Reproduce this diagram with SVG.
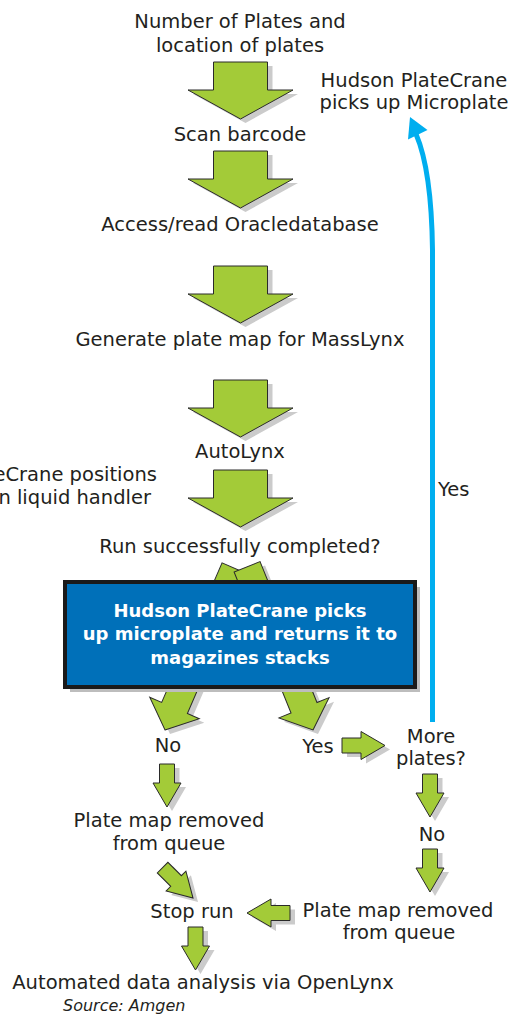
<svg xmlns="http://www.w3.org/2000/svg" width="514" height="1014" viewBox="0 0 514 1014">
<style>
.t{font-family:"DejaVu Sans","Liberation Sans",sans-serif;font-size:19.5px;fill:#231f20;text-anchor:middle}
.e{text-anchor:end}
.s{text-anchor:start}
.w{font-family:"DejaVu Sans","Liberation Sans",sans-serif;font-size:18px;font-weight:bold;fill:#ffffff;text-anchor:middle}
.src{font-family:"DejaVu Sans","Liberation Sans",sans-serif;font-size:16px;font-style:italic;fill:#231f20}
.ar{fill:#a3cb38;stroke:#2a2a2a;stroke-width:1;stroke-linejoin:miter}
.sh{fill:#cbcbcb;stroke:none}
.blue{fill:none;stroke:#00aeef;stroke-width:5;stroke-linecap:butt}
</style>
<defs>
<path id="big" d="M0,0 L52.5,-29 L27,-29 L27,-57 L-27,-57 L-27,-29 L-52.5,-29 Z"/>
<path id="med" d="M0,0 L27,-24 L14,-24 L14,-176 L-14,-176 L-14,-24 L-27,-24 Z"/>
<path id="sm" d="M0,0 L14,-24 L7.5,-24 L7.5,-43 L-7.5,-43 L-7.5,-24 L-14,-24 Z"/>
</defs>
<rect width="514" height="1014" fill="#ffffff"/>

<g id="connectors">
  <use href="#big" class="sh" transform="translate(245.5,123)"/>
  <use href="#big" class="ar" transform="translate(240.5,119)"/>
  <use href="#big" class="sh" transform="translate(245.5,212)"/>
  <use href="#big" class="ar" transform="translate(240.5,208)"/>
  <use href="#big" class="sh" transform="translate(245.5,327)"/>
  <use href="#big" class="ar" transform="translate(240.5,323)"/>
  <use href="#big" class="sh" transform="translate(245.5,441)"/>
  <use href="#big" class="ar" transform="translate(240.5,437)"/>
  <use href="#big" class="sh" transform="translate(245.5,531)"/>
  <use href="#big" class="ar" transform="translate(240.5,527)"/>
  <use href="#med" class="sh" transform="translate(170,734) rotate(23.4)"/>
  <use href="#med" class="ar" transform="translate(165,730) rotate(23.4)"/>
  <use href="#med" class="sh" transform="translate(318,734) rotate(-22)"/>
  <use href="#med" class="ar" transform="translate(313,730) rotate(-22)"/>
  <use href="#sm" class="sh" transform="translate(172,811)"/>
  <use href="#sm" class="ar" transform="translate(167,807)"/>
  <use href="#sm" class="sh" transform="translate(198,902) rotate(-45)"/>
  <use href="#sm" class="ar" transform="translate(193,898) rotate(-45)"/>
  <use href="#sm" class="sh" transform="translate(200.5,974)"/>
  <use href="#sm" class="ar" transform="translate(195.5,970)"/>
  <use href="#sm" class="sh" transform="translate(252,917) rotate(90)"/>
  <use href="#sm" class="ar" transform="translate(247,913) rotate(90)"/>
  <use href="#sm" class="sh" transform="translate(390,749.5) rotate(-90)"/>
  <use href="#sm" class="ar" transform="translate(385,745.5) rotate(-90)"/>
  <use href="#sm" class="sh" transform="translate(435,821)"/>
  <use href="#sm" class="ar" transform="translate(430,817)"/>
  <use href="#sm" class="sh" transform="translate(435,896)"/>
  <use href="#sm" class="ar" transform="translate(430,892)"/>
  <path class="blue" d="M432.5,722 L432.5,250 Q431.5,170 416,134"/>
  <polygon points="410,117 427.5,130 408,139.5" fill="#00aeef"/>
</g>

<g id="box">
  <rect x="70" y="587" width="350" height="105" fill="#bdbdbd"/>
  <rect x="65" y="582" width="350" height="105" fill="#0070b9" stroke="#1a1a1a" stroke-width="4"/>
  <text class="w" x="240" y="617">Hudson PlateCrane picks</text>
  <text class="w" x="240" y="640">up microplate and returns it to</text>
  <text class="w" x="240" y="664">magazines stacks</text>
</g>

<g id="n-number"><text class="t" x="240" y="28">Number of Plates and</text><text class="t" x="240" y="52">location of plates</text></g>
<g id="n-pickup"><text class="t" x="414" y="87">Hudson PlateCrane</text><text class="t" x="414" y="109">picks up Microplate</text></g>
<g id="n-scan"><text class="t" x="240" y="141">Scan barcode</text></g>
<g id="n-access"><text class="t" x="240" y="231">Access/read Oracledatabase</text></g>
<g id="n-generate"><text class="t" x="240" y="346">Generate plate map for MassLynx</text></g>
<g id="n-autolynx"><text class="t" x="240" y="458">AutoLynx</text></g>
<g id="n-positions"><text class="t e" x="157" y="481">eCrane positions</text><text class="t e" x="151" y="504">n liquid handler</text></g>
<g id="n-yes-top"><text class="t s" x="438" y="496">Yes</text></g>
<g id="n-run"><text class="t" x="240" y="553">Run successfully completed?</text></g>
<g id="n-no"><text class="t" x="168" y="752">No</text></g>
<g id="n-yes"><text class="t" x="318" y="753">Yes</text></g>
<g id="n-more"><text class="t" x="431" y="743">More</text><text class="t" x="431" y="765">plates?</text></g>
<g id="n-removed-left"><text class="t" x="169" y="827">Plate map removed</text><text class="t" x="169" y="850">from queue</text></g>
<g id="n-no-right"><text class="t" x="432" y="841">No</text></g>
<g id="n-stop"><text class="t" x="192" y="918">Stop run</text></g>
<g id="n-removed-right"><text class="t" x="398" y="917">Plate map removed</text><text class="t" x="399" y="939">from queue</text></g>
<g id="n-automated"><text class="t" x="203" y="989">Automated data analysis via OpenLynx</text></g>
<g id="n-source"><text class="src" x="63" y="1011">Source: Amgen</text></g>
</svg>
